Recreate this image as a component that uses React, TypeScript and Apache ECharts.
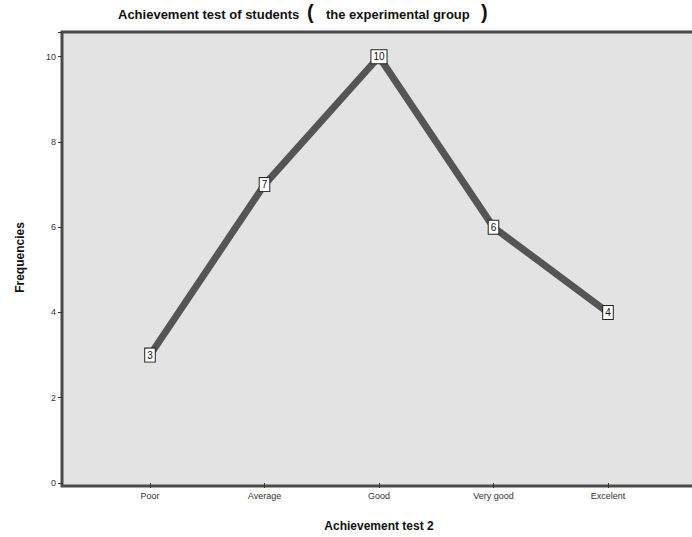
import React, { useEffect, useRef } from "react";
import * as echarts from "echarts";

const categories = ["Poor", "Average", "Good", "Very good", "Excelent"];
const frequencies = [3, 7, 10, 6, 4];
const yTicks = [0, 2, 4, 6, 8, 10];

export default function App() {
  const ref = useRef<HTMLDivElement>(null);
  useEffect(() => {
    const chart = echarts.init(ref.current!, null, { renderer: "svg" });
    const font = "'Liberation Sans', Arial, sans-serif";
    chart.setOption({
      animation: false,
      backgroundColor: "#ffffff",
      graphic: [
        {
          type: "rect",
          z: -10,
          shape: { x: 62, y: 32, width: 640, height: 454 },
          style: { fill: "#e3e3e3", stroke: "#4a4a4a", lineWidth: 3 },
        },
        {
          type: "text",
          left: 118,
          top: 8,
          style: {
            text: "Achievement test of students",
            font: `bold 13px ${font}`,
            fill: "#111",
          },
        },
        {
          type: "text",
          left: 307,
          top: 2,
          style: { text: "(", font: `bold 20px ${font}`, fill: "#111" },
        },
        {
          type: "text",
          left: 326,
          top: 8,
          style: {
            text: "the experimental group",
            font: `bold 13px ${font}`,
            fill: "#111",
          },
        },
        {
          type: "text",
          left: 481,
          top: 2,
          style: { text: ")", font: `bold 20px ${font}`, fill: "#111" },
        },
      ],
      grid: { left: 150, right: 84, top: 32, bottom: 51, containLabel: false },
      xAxis: {
        type: "category",
        data: categories,
        boundaryGap: false,
        name: "Achievement test 2",
        nameLocation: "middle",
        nameGap: 37,
        nameTextStyle: { fontFamily: font, fontWeight: "bold", fontSize: 12, color: "#111" },
        axisLine: { show: false },
        axisTick: { show: true, length: 5, lineStyle: { color: "#333" } },
        axisLabel: { fontFamily: font, fontSize: 9, color: "#333", margin: 8 },
        splitLine: { show: false },
      },
      yAxis: {
        type: "value",
        min: 0,
        max: 10.58,
        interval: 2,
        offset: 88,
        name: "Frequencies",
        nameLocation: "middle",
        nameGap: 36,
        nameTextStyle: { fontFamily: font, fontWeight: "bold", fontSize: 12, color: "#111" },
        axisLine: { show: false },
        axisTick: { show: true, length: 4, lineStyle: { color: "#333" } },
        axisLabel: {
          fontFamily: font,
          fontSize: 9,
          color: "#333",
          margin: 6,
          formatter: (v: number) => (yTicks.includes(v) ? String(v) : ""),
        },
        splitLine: { show: false },
      },
      series: [
        {
          type: "line",
          data: frequencies,
          symbol: "circle",
          symbolSize: 1,
          showSymbol: true,
          itemStyle: { color: "#555555" },
          lineStyle: { color: "#555555", width: 7 },
          label: {
            show: true,
            position: "inside",
            fontFamily: font,
            fontSize: 10,
            color: "#111",
            backgroundColor: "#ffffff",
            borderColor: "#222",
            borderWidth: 1,
            padding: [2, 2, 1, 2],
          },
        },
      ],
    });
    return () => chart.dispose();
  }, []);
  return <div ref={ref} style={{ width: 692, height: 537, position: "absolute", left: 0, top: 0 }} />;
}
